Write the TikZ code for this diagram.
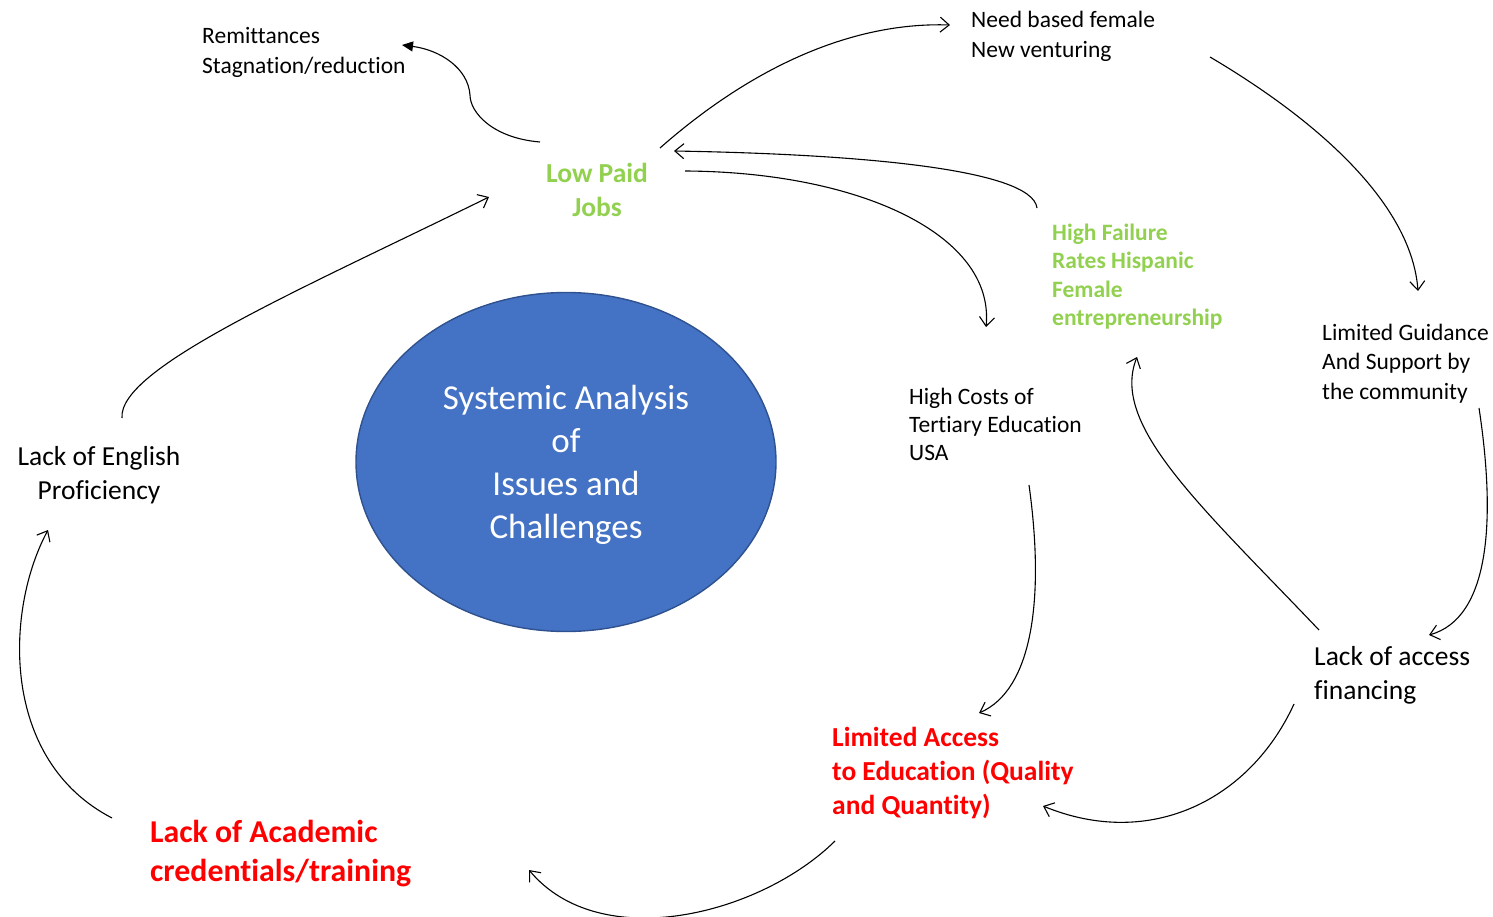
\documentclass[tikz,border=0pt]{standalone}
\usepackage{fontspec}
\setmainfont{Carlito}[Ligatures=NoCommon]
\usetikzlibrary{arrows.meta,shapes.geometric}
\definecolor{lgreen}{HTML}{92D050}
\definecolor{lred}{HTML}{FF0000}
\definecolor{efill}{HTML}{4472C4}
\definecolor{edraw}{HTML}{2F528F}
\begin{document}
\begin{tikzpicture}[x=1pt,y=-1pt,
  lbl/.style={inner sep=0pt,anchor=west,align=left},
  small/.style={font=\fontsize{23.5}{29.5}\selectfont},
  smallb/.style={font=\bfseries\fontsize{23.5}{28.5}\selectfont},
  mid/.style={font=\fontsize{27.5}{34}\selectfont},
  midb/.style={font=\bfseries\fontsize{27.5}{34}\selectfont},
  link/.style={line width=1.1pt,-{Straight Barb[length=9pt,width=15pt,line width=1.1pt]}},
  flink/.style={line width=1.1pt,-{Triangle[length=11pt,width=10pt]}}]
\useasboundingbox (0,0) rectangle (1493,917);
% central ellipse
\node (core) [ellipse,draw=edraw,line width=1.4pt,fill=efill,minimum width=420pt,minimum height=339pt,inner sep=0pt] at (566,462) {};
\node (coretext) [align=center,text=white,font=\fontsize{35}{43}\selectfont,inner sep=0pt] at (566,465) {Systemic Analysis\\of\\Issues and\\Challenges};
% labels
\node (rem) [lbl,small] at (202,52.5) {Remittances\\Stagnation/reduction};
\node (need) [lbl,small] at (971,36.5) {Need based female\\New venturing};
\node (low) [inner sep=0pt,align=center,midb,text=lgreen] at (597,190) {Low Paid\\Jobs};
\node (fail) [lbl,smallb,text=lgreen] at (1052,276.5) {High Failure\\Rates Hispanic\\Female\\entrepreneurship};
\node (guid) [lbl,small] at (1322,363.5) {Limited Guidance\\And Support by\\the community};
\node (cost) [lbl,small,font=\fontsize{23.5}{28}\selectfont] at (909,424) {High Costs of\\Tertiary Education\\USA};
\node (eng) [inner sep=0pt,align=center,mid] at (99,475) {Lack of English\\Proficiency};
\node (fin) [lbl,mid] at (1314,675) {Lack of access\\financing};
\node (lim) [lbl,midb,text=lred] at (832,773) {Limited Access\\to Education (Quality\\and Quantity)};
\node (acad) [lbl,text=lred,font=\bfseries\fontsize{31.8}{38.5}\selectfont] at (150,853.5) {Lack of Academic\\credentials/training};
% connector end points
\coordinate (lowA) at (540,142);  \coordinate (remE) at (402,45);
\coordinate (lowB) at (660,148);  \coordinate (needE) at (950,25);
\coordinate (failA) at (1037,208); \coordinate (lowE) at (674,151);
\coordinate (lowC) at (685,171);  \coordinate (costE) at (986,327);
\coordinate (needA) at (1210,57); \coordinate (guidE) at (1418,291);
\coordinate (guidA) at (1479,408); \coordinate (finE) at (1429,635);
\coordinate (finA) at (1319,630); \coordinate (failE) at (1137,357);
\coordinate (costA) at (1029,485); \coordinate (limE) at (979,713);
\coordinate (finB) at (1294,704); \coordinate (limE2) at (1043,806);
\coordinate (limA) at (835,841);  \coordinate (acadE) at (529,870);
\coordinate (acadA) at (112,818); \coordinate (engE) at (48,530);
\coordinate (engA) at (122,418);  \coordinate (lowE2) at (489,197);
% connectors
\draw[flink] (lowA) .. controls (492,138) and (470,112) .. (470,95) .. controls (468,68) and (440,50) .. (remE);
\draw[link] (lowB) .. controls (760,60) and (860,22) .. (needE);
\draw[link] (failA) .. controls (1032,168) and (850,154) .. (lowE);
\draw[link] (lowC) .. controls (860,172) and (995,235) .. (costE);
\draw[link] (needA) .. controls (1330,128) and (1412,210) .. (guidE);
\draw[link] (guidA) .. controls (1496,520) and (1490,618) .. (finE);
\draw[link] (finA) .. controls (1200,505) and (1110,425) .. (failE);
\draw[link] (costA) .. controls (1045,600) and (1032,690) .. (limE);
\draw[link] (finB) .. controls (1250,800) and (1150,850) .. (limE2);
\draw[link] (limA) .. controls (760,915) and (600,955) .. (acadE);
\draw[link] (acadA) .. controls (0,760) and (5,610) .. (engE);
\draw[link] (engA) .. controls (118,368) and (300,290) .. (lowE2);
\end{tikzpicture}
\end{document}
